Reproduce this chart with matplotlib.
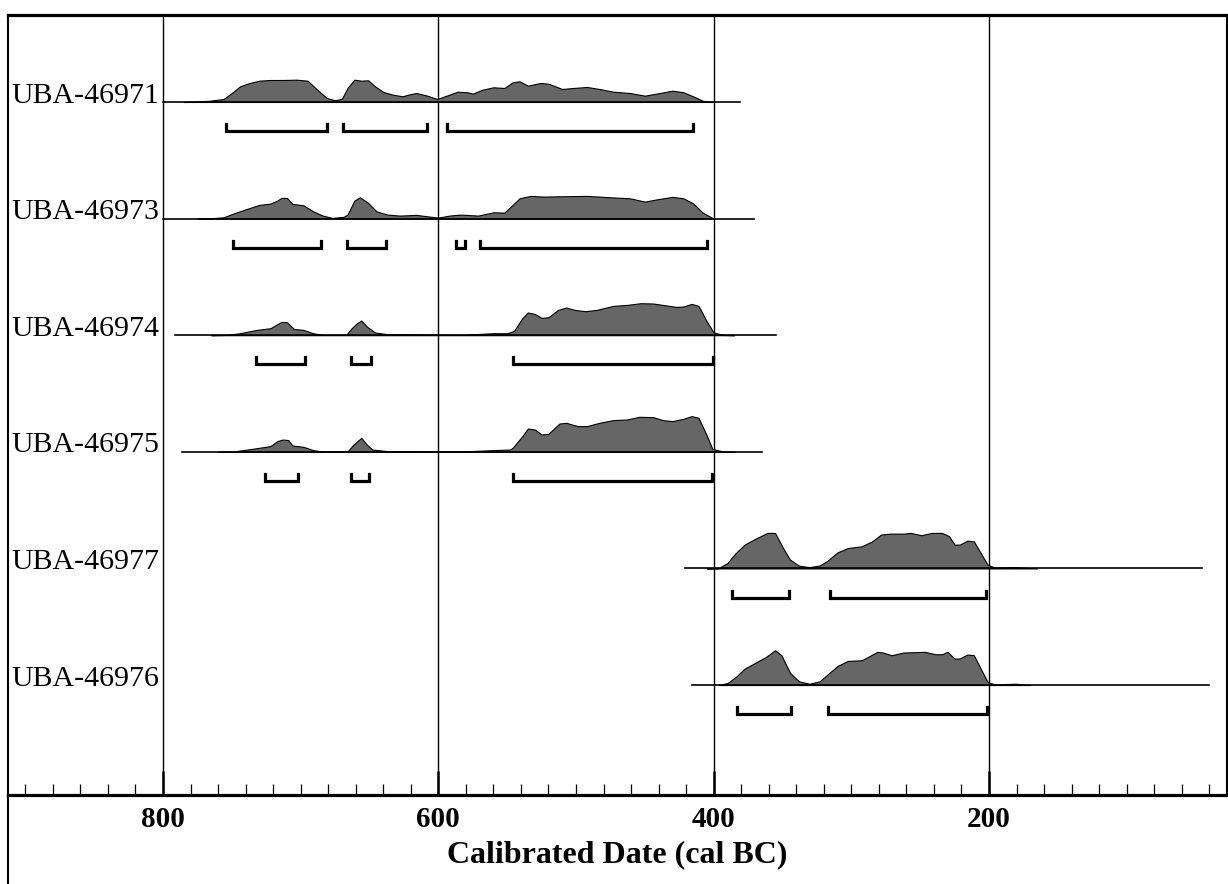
import numpy as np
import matplotlib.pyplot as plt
from matplotlib import transforms
from matplotlib.lines import Line2D
from matplotlib.ticker import MultipleLocator

plt.rcParams['font.family'] = ['Liberation Serif', 'DejaVu Serif']

muestras = ["UBA-46971", "UBA-46973", "UBA-46974", "UBA-46975", "UBA-46977", "UBA-46976"]

# fechas (cal BC) y probabilidad relativa
anio_46971 = [785, 778, 766, 756, 750, 744, 737, 730, 722, 713, 703, 695, 688, 681, 675, 670, 666,
              661, 656, 651, 646, 640, 633, 626, 622, 616, 608, 601, 594, 586, 579, 575, 568, 560,
              552, 546, 541, 535, 526, 520, 510, 502, 492, 483, 473, 461, 450, 439, 430, 422, 415,
              408, 401]
prob_46971 = [0, 0.3, 1.3, 3, 9, 15.7, 19, 21.3, 22, 22, 22.3, 21.3, 12.3, 4, 1.7, 3.3, 14,
              22.3, 21.3, 21.7, 15.7, 10, 7.3, 5.7, 7.3, 9, 6.3, 3, 6.3, 10.3, 9.7, 8.3, 12.3, 14.7,
              14, 19.7, 20.7, 16.3, 19, 18.3, 13, 14, 15, 13, 10.3, 9, 6.3, 9, 11.3, 9.7, 5.7,
              1.3, 0]

anio_46973 = [775, 766, 756, 749, 739, 730, 722, 717, 714, 710, 706, 698, 691, 684, 677, 669, 666,
              661, 657, 651, 645, 637, 628, 616, 608, 600, 592, 584, 571, 560, 552, 546, 541, 533,
              524, 512, 492, 475, 461, 450, 441, 430, 422, 415, 408, 400]
prob_46973 = [0, 0.3, 1.3, 5, 9.7, 13.7, 15, 18, 20.7, 20.7, 14.7, 13.3, 7.3, 3, 0.7, 1.7, 4,
              18, 21.3, 15.7, 7.3, 4, 3, 3.7, 2.3, 1, 3, 4, 3, 6.3, 6, 13.7, 20.3, 22.7,
              22, 22.3, 22.7, 21.3, 20.3, 17, 19.3, 21.7, 20.3, 15.3, 6, 0]

anio_46974 = [765, 754, 744, 732, 722, 717, 714, 710, 705, 698, 691, 684, 667, 663, 659, 656, 652,
              646, 637, 608, 584, 560, 550, 545, 539, 535, 530, 525, 520, 513, 507, 501, 493, 485,
              473, 463, 453, 444, 437, 427, 422, 416, 411, 405, 400, 393, 385]
prob_46974 = [0, 0.3, 2, 5.3, 7, 11, 13.3, 13, 6.3, 5.3, 2, 0.3, 0.3, 7, 12, 14.7, 8.7,
              2.7, 1, 0.7, 0.3, 2, 2, 4.3, 17, 22.7, 21.3, 17.3, 18, 25.3, 27.7, 25.3, 24, 25.3,
              29.3, 30.3, 32, 31.7, 30.3, 28.3, 28.7, 31.3, 29.3, 13.7, 2.7, 0.3, 0]

anio_46975 = [760, 749, 735, 722, 717, 713, 709, 706, 698, 691, 684, 666, 662, 656, 652, 648, 637,
              601, 584, 560, 548, 546, 539, 535, 530, 525, 520, 512, 507, 499, 492, 483, 473, 463,
              454, 444, 437, 430, 422, 416, 411, 405, 401, 393, 385]
prob_46975 = [0, 0.3, 3, 5.7, 10.7, 12.3, 11.7, 6.3, 5, 1.7, 0.3, 0.3, 6.7, 14, 7.3, 2.3, 0.7,
              0.3, 0.3, 1.7, 2.3, 4, 15.7, 23.3, 22.3, 17.3, 18, 28.3, 29, 25.7, 25.7, 29, 31.7, 32.3,
              35, 34.7, 31.7, 30.7, 33, 35.7, 34, 16.3, 3, 0.3, 0]

anio_46977 = [405, 396.5, 390, 384, 377.5, 370, 361, 355.4, 349.6, 344.5, 338, 330.5, 323, 318, 310,
              302.6, 292.4, 284.8, 278.5, 272, 262, 256.8, 249.2, 241.6, 234, 229, 225, 221.3, 215.7,
              211, 206, 201, 196, 180.6, 165]
prob_46977 = [0, 0.3, 5.4, 15.4, 23.8, 29.5, 35.5, 35.5, 20.4, 8.7, 2.7, 1.3, 3, 7, 16.1,
              20.4, 22.1, 27.1, 33.8, 34.8, 34.8, 35.5, 33.2, 35.5, 35.5, 32.2, 23.8, 23.8, 27.8,
              27.1, 15.4, 3.7, 1, 1.3, 0]

anio_46976 = [396.5, 390, 384, 377.5, 370, 362, 355.4, 350.8, 344.5, 338, 330.5, 323, 318, 310,
              302.6, 292.4, 281, 277, 270.8, 262, 246.6, 239, 234, 230.2, 225, 221.3, 215.7, 211,
              206, 201, 196, 180.6, 170]
prob_46976 = [0, 2, 8, 16.4, 22.1, 28.1, 34.8, 29.8, 12.1, 3.7, 1.3, 3.7, 9.7, 19.1,
              24.1, 24.8, 33.2, 32.5, 29.8, 32.5, 33.2, 30.8, 30.8, 33.2, 26.5, 26.5, 30.5, 29.8,
              16.4, 3, 0.7, 1.3, 0]

anios = [anio_46971, anio_46973, anio_46974, anio_46975, anio_46977, anio_46976]
probs = [prob_46971, prob_46973, prob_46974, prob_46975, prob_46977, prob_46976]

# extension de la linea base de cada distribucion
linea_base = [(800, 381), (800, 371), (791, 355), (786, 365), (421, 45), (416, 40)]

# rangos 95.4%
rangos = [[(754, 681), (669.5, 608.5), (593.5, 415)],
          [(749.4, 685.2), (666.1, 638), (587.2, 580.6), (569.7, 405.1)],
          [(732.4, 696.9), (663.4, 648.9), (545.5, 400.3)],
          [(725.7, 702.2), (663.7, 650.2), (545.5, 401)],
          [(386.4, 345), (315.8, 202.2)],
          [(383.3, 343.6), (317.3, 201.5)]]

ticks_mayores = [800, 600, 400, 200]

escala = 1 / 116.6     # altura de la densidad por fila
sep_rango = 0.25       # distancia entre la linea base y el rango
alto_rango = 0.06

fig = plt.figure(figsize=(12.28, 8.84), dpi=100)
ax = fig.add_axes([8/1228, 89/884, 1219/1228, 780/884])
trans = transforms.blended_transform_factory(ax.transAxes, ax.transData)

for i in range(len(muestras)):
  x = np.array(anios[i])
  y = np.array(probs[i])
  ax.fill_between(x, i, i - y * escala, facecolor='#666666', edgecolor='black', lw=0.8, zorder=3)
  ax.plot(linea_base[i], [i, i], color='black', lw=1.2, zorder=4)
  for a, b in rangos[i]:
    yr = i + sep_rango
    ax.plot([a, a, b, b], [yr - alto_rango, yr, yr, yr - alto_rango], color='black', lw=2.3,
            solid_joinstyle='miter', zorder=4)
  ax.text(0.003, i + 0.005, muestras[i], transform=trans, fontsize=21.5, va='baseline', ha='left')

ax.set_xlim(912.6, 27.1)
ax.set_ylim(5.943, -0.746)
ax.set_yticks([])
ax.set_xticks(ticks_mayores, labels=[str(t) for t in ticks_mayores], fontweight='bold')
ax.xaxis.set_minor_locator(MultipleLocator(20))
ax.tick_params(axis='x', which='major', direction='in', length=17, width=1.8, labelsize=21, pad=8)
ax.tick_params(axis='x', which='minor', direction='in', length=8, width=0.9)
ax.grid(axis='x', which='major', color='black', lw=1)

ax.spines['bottom'].set_linewidth(2.3)
ax.spines['top'].set_linewidth(2.3)
ax.spines['left'].set_linewidth(1.5)
ax.spines['right'].set_linewidth(1.5)

ax.set_xlabel("Calibrated Date (cal BC)", fontsize=23, fontweight='bold', labelpad=5)

# el borde izquierdo sigue hasta abajo
fig.add_artist(Line2D([8/1228, 8/1228], [0, 89/884], color='black', lw=1.5))

plt.savefig('out.png', dpi=100)
